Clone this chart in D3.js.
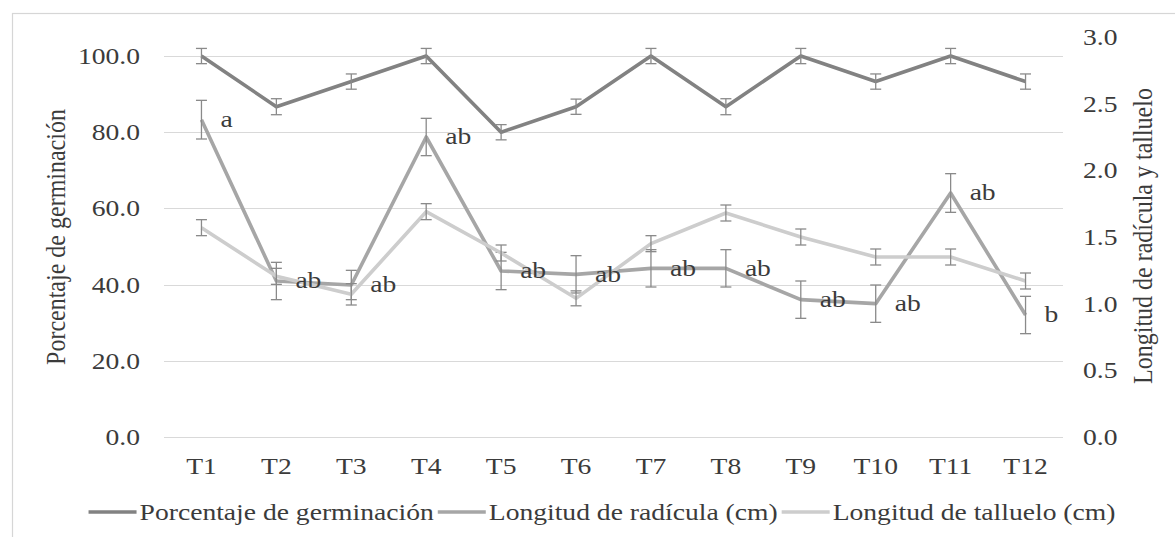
<!DOCTYPE html>
<html>
<head>
<meta charset="utf-8">
<script src="https://cdn.jsdelivr.net/npm/d3@7/dist/d3.min.js"></script>
<style>
  html, body { margin: 0; padding: 0; background: #ffffff; }
</style>
</head>
<body>
<svg id="chart" width="1175" height="537"></svg>
<script>
const categories = ["T1", "T2", "T3", "T4", "T5", "T6", "T7", "T8", "T9", "T10", "T11", "T12"];

// Porcentaje de germinación (left axis)
const germination = [100, 86.7, 93.3, 100, 80, 86.7, 100, 86.7, 100, 93.3, 100, 93.3];
const germinationErr = [2, 2.1, 2, 2, 2, 2, 2, 2.1, 2, 2, 2, 2];

// Longitud de radícula (right axis)
const radicle = [2.38, 1.17, 1.14, 2.25, 1.245, 1.22, 1.265, 1.265, 1.03, 1.0, 1.83, 0.915];
const radicleErr = [0.145, 0.14, 0.11, 0.14, 0.14, 0.14, 0.14, 0.14, 0.14, 0.14, 0.145, 0.14];
const radicleLabels = ["a", "ab", "ab", "ab", "ab", "ab", "ab", "ab", "ab", "ab", "ab", "b"];

// Longitud de talluelo (right axis)
const stem = [1.57, 1.205, 1.07, 1.69, 1.38, 1.04, 1.45, 1.68, 1.5, 1.35, 1.35, 1.17];
const stemErr = [0.06, 0.06, 0.08, 0.06, 0.06, 0.056, 0.06, 0.06, 0.06, 0.06, 0.06, 0.06];

const leftTicks = [0, 20, 40, 60, 80, 100];
const rightTicks = [0, 0.5, 1, 1.5, 2, 2.5, 3];

const LEFT_TITLE = "Porcentaje de germinación";
const RIGHT_TITLE = "Longitud de radícula y talluelo";

const series = [
  { name: "Porcentaje de germinación", values: germination, errors: germinationErr, axis: "left", color: "#828282" },
  { name: "Longitud de radícula (cm)", values: radicle, errors: radicleErr, axis: "right", color: "#a6a6a6" },
  { name: "Longitud de talluelo (cm)", values: stem, errors: stemErr, axis: "right", color: "#cdcdcd" },
];

const FONT = "'Liberation Serif', 'Times New Roman', 'DejaVu Serif', serif";
const FONT_SIZE = 24;
const TEXT_SX = 1.15; // the source picture is stretched horizontally
const TEXT_COLOR = "#3b3b3b";
const plot = { left: 164, right: 1063, top: 37, bottom: 437 };

const svg = d3.select("#chart");

const x = d3.scaleBand().domain(categories).range([plot.left, plot.right]).padding(0);
const cx = (d) => x(d) + x.bandwidth() / 2;
const yLeft = d3.scaleLinear().domain([0, 105]).range([plot.bottom, plot.top]);
const yRight = d3.scaleLinear().domain([0, 3]).range([plot.bottom, plot.top]);

function placeText(sel, px, py, rot) {
  return sel
    .attr("font-family", FONT)
    .attr("font-size", FONT_SIZE)
    .attr("fill", TEXT_COLOR)
    .attr("transform", `translate(${px},${py}) scale(${TEXT_SX},1)` + (rot ? ` rotate(${rot})` : ""));
}

// chart border
svg.append("rect")
  .attr("x", 12.5).attr("y", 13.5)
  .attr("width", 1200).attr("height", 600)
  .attr("fill", "none").attr("stroke", "#d6d6d6").attr("stroke-width", 1.2);

// gridlines
svg.append("g")
  .selectAll("line")
  .data(leftTicks)
  .join("line")
  .attr("x1", plot.left).attr("x2", plot.right)
  .attr("y1", (d) => Math.round(yLeft(d)) + 0.5)
  .attr("y2", (d) => Math.round(yLeft(d)) + 0.5)
  .attr("stroke", "#d9d9d9").attr("stroke-width", 1);

// left tick labels
svg.append("g")
  .selectAll("text")
  .data(leftTicks)
  .join("text")
  .attr("text-anchor", "end")
  .attr("dy", "0.33em")
  .each(function (d) { placeText(d3.select(this), 140, yLeft(d)); })
  .text((d) => d3.format(".1f")(d));

// right tick labels
svg.append("g")
  .selectAll("text")
  .data(rightTicks)
  .join("text")
  .attr("text-anchor", "start")
  .attr("dy", "0.33em")
  .each(function (d) { placeText(d3.select(this), 1083, yRight(d)); })
  .text((d) => d3.format(".1f")(d));

// category labels
svg.append("g")
  .selectAll("text")
  .data(categories)
  .join("text")
  .attr("text-anchor", "middle")
  .each(function (d) { placeText(d3.select(this), cx(d), 474); })
  .text((d) => d);

// axis titles
placeText(svg.append("text"), 65, 237, -90)
  .attr("text-anchor", "middle")
  .text(LEFT_TITLE);

placeText(svg.append("text"), 1152, 236, -90)
  .attr("text-anchor", "middle")
  .text(RIGHT_TITLE);

// series: lines + error bars
series.forEach((s) => {
  const y = s.axis === "left" ? yLeft : yRight;
  const points = categories.map((c, i) => ({ c, v: s.values[i], e: s.errors[i] }));
  const g = svg.append("g");

  g.append("path")
    .datum(points)
    .attr("fill", "none")
    .attr("stroke", s.color)
    .attr("stroke-width", 3.6)
    .attr("stroke-linejoin", "round")
    .attr("d", d3.line().x((p) => cx(p.c)).y((p) => y(p.v)));

  const bars = g.append("g")
    .selectAll("g")
    .data(points)
    .join("g")
    .attr("stroke", "#8a8a8a")
    .attr("stroke-width", 1.3);
  bars.append("line")
    .attr("x1", (p) => cx(p.c)).attr("x2", (p) => cx(p.c))
    .attr("y1", (p) => y(p.v - p.e)).attr("y2", (p) => y(p.v + p.e));
  [1, -1].forEach((sign) => {
    bars.append("line")
      .attr("x1", (p) => cx(p.c) - 5.5).attr("x2", (p) => cx(p.c) + 5.5)
      .attr("y1", (p) => y(p.v + sign * p.e)).attr("y2", (p) => y(p.v + sign * p.e));
  });
});

// significance letters on the radicle series
svg.append("g")
  .selectAll("text")
  .data(categories)
  .join("text")
  .attr("dy", "0.3em")
  .each(function (c, i) { placeText(d3.select(this), cx(c) + 19, yRight(radicle[i])); })
  .text((c, i) => radicleLabels[i]);

// legend
const legend = svg.append("g");
const legendItems = series.map((s) => {
  const item = legend.append("g");
  item.append("line").attr("stroke", s.color).attr("stroke-width", 3.6);
  const label = placeText(item.append("text"), 0, 0).text(s.name);
  return { item, label, width: label.node().getComputedTextLength() * TEXT_SX };
});
const LINE_LEN = 48, LINE_GAP = 3, ITEM_GAP = 4, LEGEND_Y = 512;
const legendWidth = d3.sum(legendItems, (d) => LINE_LEN + LINE_GAP + d.width) + ITEM_GAP * (legendItems.length - 1);
let lx = 602 - legendWidth / 2;
legendItems.forEach((d) => {
  d.item.select("line").attr("x1", lx).attr("x2", lx + LINE_LEN).attr("y1", LEGEND_Y).attr("y2", LEGEND_Y);
  placeText(d.label, lx + LINE_LEN + LINE_GAP, LEGEND_Y).attr("dy", "0.33em");
  lx += LINE_LEN + LINE_GAP + d.width + ITEM_GAP;
});
</script>
</body>
</html>
